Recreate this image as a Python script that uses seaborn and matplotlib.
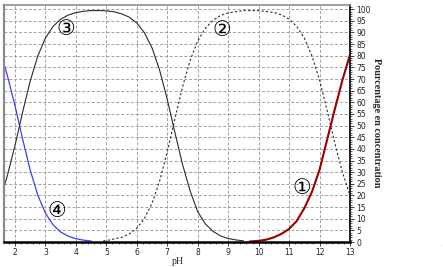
import numpy as np
import pandas as pd
import matplotlib
matplotlib.use("Agg")
import matplotlib.pyplot as plt
from matplotlib.ticker import MultipleLocator
import seaborn as sns

# ---- data ----
ph_4 = [1.64, 1.75, 2.0, 2.25, 2.5, 2.75, 3.0, 3.25, 3.5, 3.75, 4.0, 4.25, 4.5]
pct_4 = [76.4, 71.5, 58.6, 44.3, 30.9, 20.1, 12.4, 7.4, 4.3, 2.5, 1.4, 0.8, 0.4]

ph_3 = [1.64, 1.75, 2.0, 2.25, 2.5, 2.75, 3.0, 3.25, 3.5, 3.75, 4.0, 4.25, 4.5, 4.75,
        5.0, 5.25, 5.5, 5.75, 6.0, 6.25, 6.5, 6.75, 7.0, 7.25, 7.5, 7.75, 8.0, 8.25,
        8.5, 8.75, 9.0, 9.25, 9.5]
pct_3 = [23.6, 28.5, 41.4, 55.7, 69.1, 79.9, 87.6, 92.6, 95.7, 97.5, 98.5, 99.1, 99.4, 99.4,
         99.3, 98.9, 98.0, 96.6, 94.1, 89.9, 83.4, 73.8, 61.3, 47.1, 33.4, 22.0, 13.0, 7.8,
         4.6, 2.6, 1.5, 0.9, 0.5]

ph_2 = [4.9, 5.0, 5.5, 5.75, 6.0, 6.25, 6.5, 6.75, 7.0, 7.25, 7.5, 7.75, 8.0, 8.25, 8.5,
        8.75, 9.0, 9.5, 10.0, 10.5, 10.75, 11.0, 11.25, 11.5, 11.75, 12.0, 12.25, 12.5,
        12.75, 13.0]
pct_2 = [0.5, 0.6, 2.0, 3.4, 5.9, 10.1, 16.6, 26.2, 38.7, 52.9, 66.6, 78.0, 86.3, 91.8, 95.2,
         97.3, 98.4, 99.4, 99.4, 98.6, 97.6, 95.7, 92.6, 87.6, 79.9, 69.6, 56.5, 42.5,
         30.0, 20.0]

ph_1 = [9.7, 10.0, 10.25, 10.5, 10.75, 11.0, 11.25, 11.5, 11.75, 12.0, 12.25, 12.5, 12.75, 13.0]
pct_1 = [0.2, 0.5, 1.0, 2.0, 3.5, 5.6, 9.0, 14.5, 21.5, 31.0, 44.0, 57.0, 69.5, 80.5]

curve_labels = ["\u2460", "\u2461", "\u2462", "\u2463"]
label_pos_ph = [11.42, 8.80, 3.68, 3.38]
label_pos_pct = [23.0, 91.0, 91.5, 13.5]

x_ticks = list(range(2, 14))
y_ticks = list(range(0, 101, 5))
x_label = "pH"
y_label = "Pourcentage en concentration"

# ---- figure ----
sns.set_style("white")
plt.rcParams['font.family'] = ['DejaVu Sans']

fig = plt.figure(figsize=(4.43, 2.67), dpi=100)
ax = fig.add_axes([4 / 443, 25 / 267, 346 / 443, 237 / 267])

grid_kw = dict(color="#a0a0a0", lw=0.7, ls=(0, (3, 2)), zorder=0)
for xv in x_ticks:
    ax.axvline(xv, **grid_kw)
for yv in y_ticks:
    ax.axhline(yv, **grid_kw)

df4 = pd.DataFrame({"pH": ph_4, "pct": pct_4})
df3 = pd.DataFrame({"pH": ph_3, "pct": pct_3})
df2 = pd.DataFrame({"pH": ph_2, "pct": pct_2})
df1 = pd.DataFrame({"pH": ph_1, "pct": pct_1})

sns.lineplot(data=df4, x="pH", y="pct", ax=ax, color="#3c3cff", lw=0.9, sort=False)
sns.lineplot(data=df3, x="pH", y="pct", ax=ax, color="#2a2a2a", lw=0.8, sort=False)
sns.lineplot(data=df2, x="pH", y="pct", ax=ax, color="#2a2a2a", lw=0.8, sort=False,
             linestyle=(0, (2, 2)))
sns.lineplot(data=df1, x="pH", y="pct", ax=ax, color="#990000", lw=1.5, sort=False)

for lab, px, py in zip(curve_labels, label_pos_ph, label_pos_pct):
    ax.text(px, py, lab, fontsize=15, ha="center", va="center", color="black",
            family=["DejaVu Sans"])

ax.set_xlim(1.64, 13)
ax.set_ylim(0, 101.8)

ax.yaxis.tick_right()
ax.set_xticks(x_ticks)
ax.set_yticks(y_ticks)
ax.xaxis.set_minor_locator(MultipleLocator(0.2))
ax.yaxis.set_minor_locator(MultipleLocator(1))
ax.tick_params(axis="both", which="major", direction="out", length=3, width=0.6,
               labelsize=5.5, colors="#202030", pad=1.5)
ax.tick_params(axis="both", which="minor", direction="out", length=1.5, width=0.5,
               colors="#202030")
ax.tick_params(axis="y", which="both", left=False, right=True)
ax.tick_params(axis="x", which="both", bottom=True, top=False)

ax.set_xlabel("")
ax.set_ylabel("")
fig.text(178 / 443, 1 - 262 / 267, x_label, fontsize=7, family="Liberation Serif",
         ha="center", va="center")
fig.text(377 / 443, 1 - 123 / 267, y_label, fontsize=7.3, family="Liberation Serif",
         fontweight="bold", rotation=270, ha="center", va="center")
fig.text(442 / 443, 1 - 244 / 267, ".", fontsize=6, ha="center", va="center")

for side in ["left", "top"]:
    ax.spines[side].set_color("#8c8c8c")
ax.spines["left"].set_linewidth(1.6)
ax.spines["top"].set_linewidth(1.2)
ax.spines["right"].set_color("#202020")
ax.spines["right"].set_linewidth(1.4)
ax.spines["bottom"].set_color("black")
ax.spines["bottom"].set_linewidth(1.8)
for s in ax.spines.values():
    s.set_zorder(5)

fig.savefig("out.png", dpi=100)
